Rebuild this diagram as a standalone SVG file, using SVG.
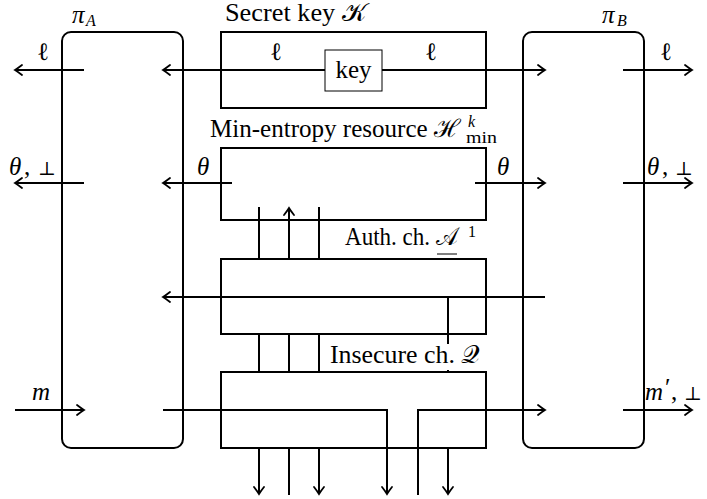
<svg xmlns="http://www.w3.org/2000/svg" width="707" height="499" viewBox="0 0 707 499">
<style>
.box{fill:none;stroke:#000;stroke-width:2}
.thin{fill:#fff;stroke:#000;stroke-width:1}
.ln{fill:none;stroke:#000;stroke-width:2}
.t{font-family:"Liberation Serif","DejaVu Serif",serif;font-size:25px;fill:#000}
.i{font-style:italic}
.s{font-family:"Liberation Serif","DejaVu Serif",serif;font-size:16px;fill:#000}
.m{font-family:"DejaVu Serif","Liberation Serif",serif;font-size:19px;fill:#000}
</style>
<defs>
<marker id="ah" markerUnits="userSpaceOnUse" markerWidth="16" markerHeight="16" viewBox="-10 -8 12 16" refX="0" refY="0" orient="auto">
<path d="M-7,-5 Q-2.5,-1.5 0,0 Q-2.5,1.5 -7,5" fill="none" stroke="#000" stroke-width="1.8" stroke-linecap="round"/>
</marker>
</defs>
<rect width="707" height="499" fill="#fff"/>

<g id="piA">
<rect class="box" x="62" y="32" width="121" height="416" rx="9"/>
<text class="t i" x="72" y="23">π</text><text class="s i" x="86" y="26">A</text>
</g>
<g id="piB">
<rect class="box" x="523" y="32" width="121" height="416" rx="9"/>
<text class="t i" x="602" y="23">π</text><text class="s i" x="617" y="26">B</text>
</g>

<g id="secretKey">
<rect class="box" x="221" y="32" width="265" height="76"/>
<text class="t" x="225" y="21" font-size="23" textLength="141" lengthAdjust="spacingAndGlyphs">Secret key 𝒦</text>
</g>
<g id="key">
<rect class="thin" x="325" y="50" width="57" height="41"/>
<text class="t" x="353.5" y="78" text-anchor="middle">key</text>
</g>

<g id="minEntropy">
<rect class="box" x="221" y="148" width="265" height="72"/>
<text class="t" x="210" y="137" textLength="250" lengthAdjust="spacingAndGlyphs">Min-entropy resource ℋ</text>
<text class="s i" x="468" y="127">k</text>
<text class="s" x="466" y="143" textLength="31" lengthAdjust="spacingAndGlyphs">min</text>
</g>

<g id="auth">
<rect class="box" x="221" y="259" width="265" height="75"/>
<text class="t" x="345" y="245" textLength="113" lengthAdjust="spacingAndGlyphs">Auth. ch. 𝒜</text>
<line x1="437" y1="254" x2="457" y2="254" stroke="#000" stroke-width="1"/>
<text class="s" x="468" y="237">1</text>
</g>

<g id="connectors">
<path class="ln" d="M325,70 H163" marker-end="url(#ah)"/>
<path class="ln" d="M382,70 H545" marker-end="url(#ah)"/>
<path class="ln" d="M84,70 H15" marker-end="url(#ah)"/>
<path class="ln" d="M623,70 H692" marker-end="url(#ah)"/>
<path class="ln" d="M232,183 H163" marker-end="url(#ah)"/>
<path class="ln" d="M475,183 H545" marker-end="url(#ah)"/>
<path class="ln" d="M84,183 H15" marker-end="url(#ah)"/>
<path class="ln" d="M623,183 H692" marker-end="url(#ah)"/>
<path class="ln" d="M259,207 V259"/>
<path class="ln" d="M289,259 V208" marker-end="url(#ah)"/>
<path class="ln" d="M319,207 V259"/>
<path class="ln" d="M545,297 H163" marker-end="url(#ah)"/>
<path class="ln" d="M448,297 V372"/>
<path class="ln" d="M259,334 V372"/>
<path class="ln" d="M289,334 V372"/>
<path class="ln" d="M319,334 V372"/>
<path class="ln" d="M163,410 H387 V494" marker-end="url(#ah)"/>
<path class="ln" d="M418,495 V410 H545" marker-end="url(#ah)"/>
<path class="ln" d="M259,448 V494" marker-end="url(#ah)"/>
<path class="ln" d="M289,448 V495"/>
<path class="ln" d="M319,448 V494" marker-end="url(#ah)"/>
<path class="ln" d="M448,448 V494" marker-end="url(#ah)"/>
<path class="ln" d="M15,410 H84" marker-end="url(#ah)"/>
<path class="ln" d="M623,410 H692" marker-end="url(#ah)"/>
</g>

<g id="insecure">
<rect class="box" x="221" y="372" width="265" height="76"/>
<rect x="328" y="344" width="155" height="26" fill="#fff"/>
<text class="t" x="330" y="363" textLength="150" lengthAdjust="spacingAndGlyphs">Insecure ch. 𝒬</text>
</g>

<g id="labels">
<text class="t" x="37" y="60">ℓ</text>
<text class="t" x="270" y="60">ℓ</text>
<text class="t" x="425" y="60">ℓ</text>
<text class="t" x="660" y="60">ℓ</text>
<text class="t i" x="197" y="175">θ</text>
<text class="t i" x="497" y="175">θ</text>
<text class="t i" x="9" y="175">θ</text><text class="t" x="24" y="175">,</text><text class="m" x="38" y="175">⊥</text>
<text class="t i" x="647" y="175">θ</text><text class="t" x="662" y="175">,</text><text class="m" x="675" y="175">⊥</text>
<text class="t i" x="32" y="400">m</text>
<text class="t i" x="645" y="400">m</text><text class="t" x="665" y="396">′</text><text class="t" x="671" y="400">,</text><text class="m" x="684" y="400">⊥</text>
</g>
</svg>
